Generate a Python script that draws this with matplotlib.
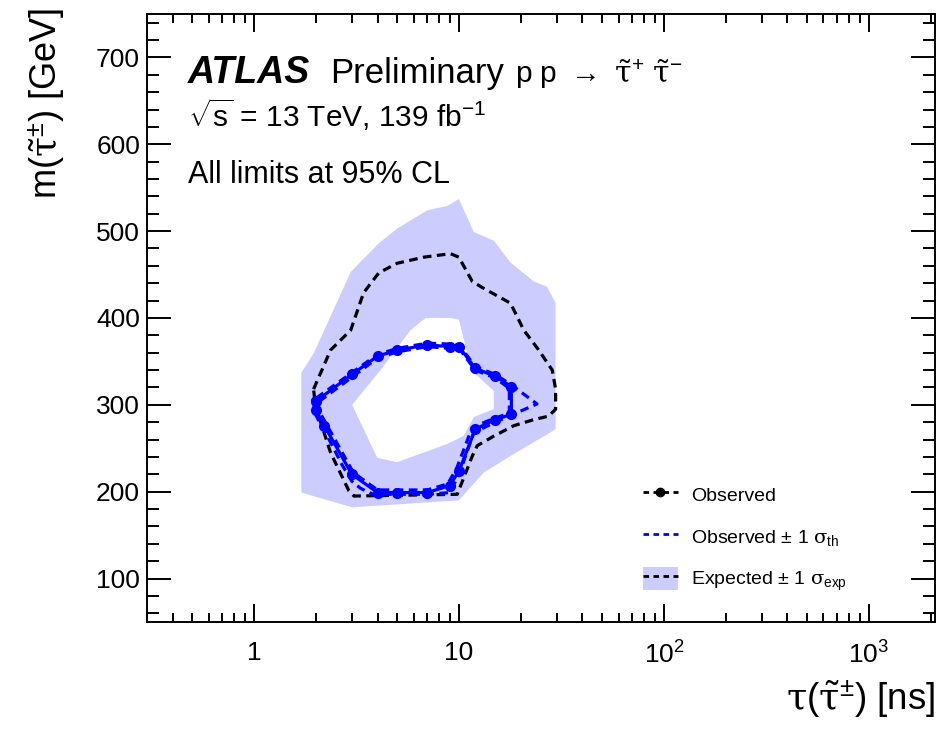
import numpy as np
import matplotlib
matplotlib.use("Agg")
import matplotlib.pyplot as plt
from matplotlib.path import Path
from matplotlib.patches import PathPatch, Patch
from matplotlib.lines import Line2D

plt.rcParams['font.family'] = ['Liberation Sans', 'DejaVu Sans']
plt.rcParams['mathtext.fontset'] = 'custom'
plt.rcParams['mathtext.rm'] = 'Liberation Sans'
plt.rcParams['mathtext.it'] = 'DejaVu Serif'
plt.rcParams['mathtext.bf'] = 'Liberation Sans:bold'

# lifetime [ns] / mass [GeV] contours
# expected +-1 sigma band: outer edge and inner hole
band_outer_tau = [1.70, 1.70, 1.96, 2.96, 4.06, 4.99, 7.0, 8.76, 9.98, 11.8, 14.8,
                  17.8, 23.2, 26.9, 29.6, 29.6, 26.9, 17.8, 13.2, 9.98, 3.01]
band_outer_m = [199, 337, 360, 453, 486, 503, 524, 529, 537, 499, 489,
                464, 442, 436, 417, 272, 266, 241, 222, 190, 182]
band_inner_tau = [3.01, 4.14, 5.80, 6.87, 9.09, 9.98, 10.88, 11.81, 14.78, 14.78,
                  11.81, 10.52, 8.76, 4.99, 3.99]
band_inner_m = [300, 340, 386, 400, 400, 398, 363, 337, 316, 295,
                286, 264, 255, 234, 239]

# expected limit
exp_tau = [1.95, 2.36, 2.96, 3.42, 4.06, 4.99, 6.73, 9.09, 9.98, 11.6, 13.21,
           17.83, 20.7, 24.5, 28.5, 29.6, 29.6, 27.4, 23.17, 18.5, 14.78, 12.27,
           11.6, 9.8, 3.07, 2.90, 2.36, 1.995, 1.95]
exp_m = [318, 363, 386, 429, 452, 463, 470, 474, 470, 442, 434,
         417, 386, 363, 340, 318, 295, 287, 283, 276, 264, 253,
         241, 197, 195, 201, 245, 298, 318]

# observed limit
obs_tau = [2.0, 2.0, 2.2, 3.0, 4.0, 5.0, 7.0, 9.0, 10.0, 12.0, 15.0, 18.0,
           18.0, 15.0, 12.0, 10.0, 9.0, 7.0, 5.0, 4.0, 3.0, 2.0]
obs_m = [304, 294, 276, 220, 199, 199, 199, 207, 224, 272, 283, 289,
         321, 333, 342, 367, 367, 369, 363, 356, 335, 304]

# observed +-1 sigma theory
th_up_tau = [1.96, 1.96, 2.3, 2.7, 3.0, 3.3, 3.8, 5.0, 7.0, 9.0, 10.0, 11.8,
             15.0, 24.0, 18.0, 15.0, 12.0, 10.0, 9.0, 7.0, 5.0, 4.0, 3.0, 1.96]
th_up_m = [306, 292, 262, 230, 212, 204, 197, 197, 197, 199, 220, 268,
           280, 301, 323, 335, 344, 369, 370, 371, 365, 358, 337, 306]
th_dn_tau = [2.05, 2.05, 3.05, 4.0, 5.0, 7.0, 8.8, 9.7, 11.6, 15.0, 17.6,
             17.6, 15.0, 12.0, 10.0, 9.0, 7.0, 5.0, 4.0, 3.05, 2.05]
th_dn_m = [303, 295, 222, 202, 202, 202, 209, 226, 274, 285, 290,
           319, 331, 340, 365, 365, 367, 361, 354, 333, 303]

xticks = [1, 10, 100, 1000]
xticklabels = ['1', '10', r'$\mathregular{10^{2}}$', r'$\mathregular{10^{3}}$']
yticks = [100, 200, 300, 400, 500, 600, 700]

band_color = '#ccccff'
blue = '#0000ff'
dash = (2.7, 1.7)


def signed_area(x, y):
    x = np.asarray(x)
    y = np.asarray(y)
    return 0.5 * np.sum(x * np.roll(y, -1) - np.roll(x, -1) * y)


def ring(tau, m):
    pts = np.column_stack([tau, m]).astype(float)
    codes = [Path.MOVETO] + [Path.LINETO] * (len(pts) - 1) + [Path.CLOSEPOLY]
    return np.vstack([pts, pts[:1]]), codes


fig = plt.figure(figsize=(9.38, 7.32), dpi=100)
ax = fig.add_axes([0.1567, 0.1503, 0.840, 0.8306])
ax.set_xscale('log')
ax.set_xlim(0.3, 2100)
ax.set_ylim(50, 750)

# band with a hole: inner ring wound the other way round
in_tau, in_m = band_inner_tau, band_inner_m
a_out = signed_area(np.log10(band_outer_tau), band_outer_m)
a_in = signed_area(np.log10(in_tau), in_m)
if np.sign(a_out) == np.sign(a_in):
    in_tau, in_m = in_tau[::-1], in_m[::-1]
v1, c1 = ring(band_outer_tau, band_outer_m)
v2, c2 = ring(in_tau, in_m)
band = PathPatch(Path(np.vstack([v1, v2]), c1 + c2),
                 facecolor=band_color, edgecolor='none', zorder=1)
ax.add_patch(band)

ax.plot(exp_tau, exp_m, color='k', lw=2.3, ls='--', dashes=dash, zorder=3)
ax.plot(th_up_tau, th_up_m, color=blue, lw=2.3, ls='--', dashes=dash, zorder=3)
ax.plot(th_dn_tau, th_dn_m, color=blue, lw=2.3, ls='--', dashes=dash, zorder=3)
ax.plot(obs_tau, obs_m, color=blue, lw=2.3, marker='o', ms=7, zorder=4)

# axes styling
ax.set_xticks(xticks)
ax.set_xticklabels(xticklabels)
ax.xaxis.set_minor_locator(matplotlib.ticker.LogLocator(subs=np.arange(2, 10)))
ax.xaxis.set_minor_formatter(matplotlib.ticker.NullFormatter())
ax.set_yticks(yticks)
ax.yaxis.set_minor_locator(matplotlib.ticker.MultipleLocator(20))
ax.tick_params(axis='x', which='major', direction='in', length=13, width=1.4,
               top=True, labelsize=19, pad=14)
ax.tick_params(axis='x', which='minor', direction='in', length=6.5, width=1.4, top=True)
ax.tick_params(axis='y', which='major', direction='in', length=17, width=1.4,
               right=True, labelsize=19, pad=5)
ax.tick_params(axis='y', which='minor', direction='in', length=8.6, width=1.4, right=True)
for s in ax.spines.values():
    s.set_linewidth(1.4)

ax.set_xlabel(r'$\tau(\tilde{\tau}^{\pm})$ [ns]', fontsize=26.5, loc='right')
ax.xaxis.set_label_coords(1.0, -0.092)
ax.set_ylabel(r'm$(\tilde{\tau}^{\pm})$ [GeV]', fontsize=26, loc='top')
ax.yaxis.set_label_coords(-0.1, 1.01)

# labels
ax.text(0.052, 0.8865, 'ATLAS', transform=ax.transAxes, fontsize=27,
        fontweight='bold', fontstyle='italic', va='baseline')
ax.text(0.233, 0.8865, 'Preliminary', transform=ax.transAxes, fontsize=25, va='baseline')
ax.text(0.467, 0.8865, r'p p $\rightarrow$ $\tilde{\tau}^{+}$ $\tilde{\tau}^{-}$',
        transform=ax.transAxes, fontsize=21.5, va='baseline')
ax.text(0.052, 0.814, r'$\sqrt{\mathrm{s}}$ = 13 TeV, 139 fb$^{\mathrm{-1}}$',
        transform=ax.transAxes, fontsize=21.5, va='baseline')
ax.text(0.052, 0.722, 'All limits at 95% CL', transform=ax.transAxes,
        fontsize=22, va='baseline')

handles = [
    Line2D([], [], color='k', lw=2.0, ls='--', dashes=(2, 1.6), marker='o', ms=6),
    Line2D([], [], color=blue, lw=2.0, ls='--', dashes=(2, 1.6)),
    (Patch(facecolor=band_color, edgecolor='none'),
     Line2D([], [], color='k', lw=2.0, ls='--', dashes=(2, 1.6))),
]
labels = ['Observed', r'Observed $\pm$ 1 $\sigma_{\mathrm{th}}$',
          r'Expected $\pm$ 1 $\sigma_{\mathrm{exp}}$']
ax.legend(handles, labels, loc='upper left', bbox_to_anchor=(0.629, 0.228),
          frameon=False, fontsize=14, handlelength=1.8, handleheight=1.4,
          handletextpad=0.7, labelspacing=1.0, borderpad=0, borderaxespad=0,
          numpoints=1)

fig.savefig('out.png', dpi=100)
